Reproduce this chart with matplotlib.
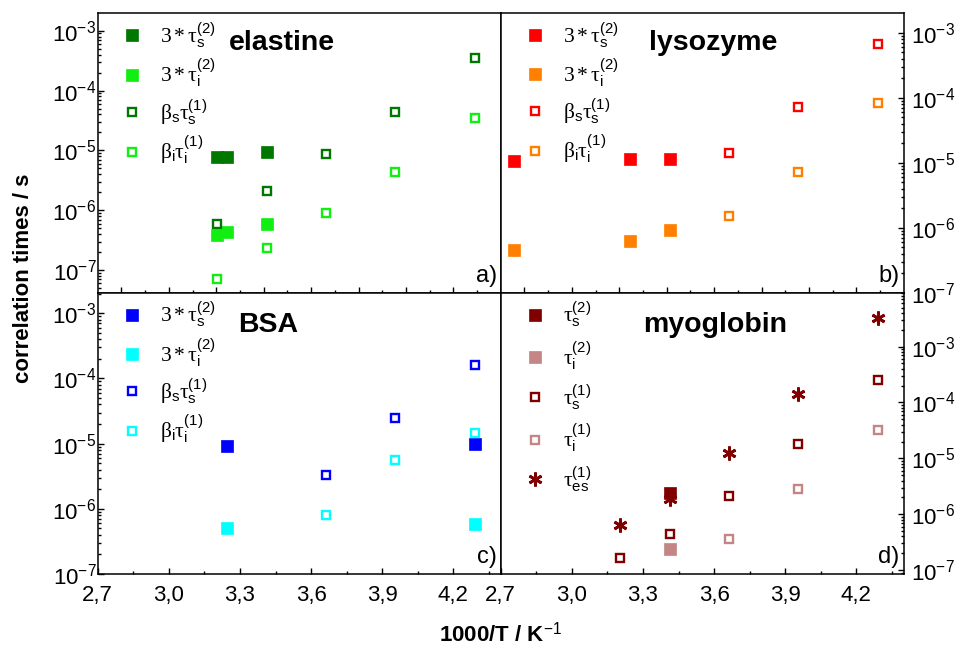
import matplotlib
matplotlib.use("Agg")
import matplotlib.pyplot as plt
from matplotlib.ticker import LogLocator, FuncFormatter, NullFormatter

plt.rcParams['font.family'] = ['Liberation Sans', 'DejaVu Sans']
plt.rcParams['mathtext.fontset'] = 'custom'
plt.rcParams['mathtext.rm'] = 'Liberation Serif'
plt.rcParams['mathtext.it'] = 'Liberation Serif:italic'
plt.rcParams['mathtext.sf'] = 'Liberation Sans'

# elastine (panel a)
ela_x2 = [3.205, 3.247, 3.413]
ela_tau_s2 = [7.8e-6, 7.8e-6, 9.4e-6]
ela_tau_i2 = [3.8e-7, 4.4e-7, 5.8e-7]
ela_x1 = [3.205, 3.413, 3.663, 3.953, 4.292]
ela_bs_tau_s1 = [5.8e-7, 2.1e-6, 8.8e-6, 4.3e-5, 3.5e-4]
ela_bi_tau_i1 = [7.2e-8, 2.3e-7, 9.1e-7, 4.3e-6, 3.5e-5]

# lysozyme (panel b)
lys_x2 = [2.755, 3.247, 3.413]
lys_tau_s2 = [1.05e-5, 1.15e-5, 1.16e-5]
lys_tau_i2 = [4.5e-7, 6.3e-7, 9.2e-7]
lys_x1 = [3.663, 3.953, 4.292]
lys_bs_tau_s1 = [1.42e-5, 7.3e-5, 6.8e-4]
lys_bi_tau_i1 = [1.5e-6, 7.1e-6, 8.3e-5]

# BSA (panel c)
bsa_x2 = [3.247, 4.292]
bsa_tau_s2 = [9.1e-6, 9.8e-6]
bsa_tau_i2 = [5.0e-7, 5.8e-7]
bsa_x1 = [3.663, 3.953, 4.292]
bsa_bs_tau_s1 = [3.3e-6, 2.5e-5, 1.6e-4]
bsa_bi_tau_i1 = [8.1e-7, 5.7e-6, 1.46e-5]

# myoglobin (panel d)
mb_x2 = [3.413]
mb_tau_s2 = [2.4e-6]
mb_tau_i2 = [2.4e-7]
mb_xs1 = [3.205, 3.413, 3.663, 3.953, 4.292]
mb_tau_s1 = [1.65e-7, 4.5e-7, 2.1e-6, 1.78e-5, 2.5e-4]
mb_xi1 = [3.663, 3.953, 4.292]
mb_tau_i1 = [3.6e-7, 2.85e-6, 3.2e-5]
mb_xes1 = [3.205, 3.413, 3.663, 3.953, 4.292]
mb_tau_es1 = [6.4e-7, 1.9e-6, 1.23e-5, 1.4e-4, 3.3e-3]

lab_s2 = r'$\mathrm{3*\tau}_\mathsf{s}^\mathsf{(2)}$'
lab_i2 = r'$\mathrm{3*\tau}_\mathsf{i}^\mathsf{(2)}$'
lab_bs = r'$\mathrm{\beta}_\mathsf{s}\mathrm{\tau}_\mathsf{s}^\mathsf{(1)}$'
lab_bi = r'$\mathrm{\beta}_\mathsf{i}\mathrm{\tau}_\mathsf{i}^\mathsf{(1)}$'

fig = plt.figure(figsize=(9.58, 6.54), dpi=100)
W = 0.4207
axa = fig.add_axes([0.102, 0.552, W, 0.428])
axb = fig.add_axes([0.102 + W, 0.552, W, 0.428])
axc = fig.add_axes([0.102, 0.1223, W, 0.4297])
axd = fig.add_axes([0.102 + W, 0.1223, W, 0.4297])

filled = dict(ls='none', marker='s', ms=8, mew=0.5)
hollow = dict(ls='none', marker='s', ms=5.5, mew=1.7, mfc='white')


def square_pair(ax, x2, s2, i2, x1, s1, i1, dark, light, ls2, li2, ls1, li1):
    ax.plot(x2, s2, color=dark, label=ls2, **filled)
    ax.plot(x2, i2, color=light, label=li2, **filled)
    ax.plot(x1, s1, color=dark, label=ls1, **hollow)
    ax.plot(x1, i1, color=light, label=li1, **hollow)


square_pair(axa, ela_x2, ela_tau_s2, ela_tau_i2, ela_x1, ela_bs_tau_s1, ela_bi_tau_i1,
            '#007800', '#11ee11', lab_s2, lab_i2, lab_bs, lab_bi)
square_pair(axb, lys_x2, lys_tau_s2, lys_tau_i2, lys_x1, lys_bs_tau_s1, lys_bi_tau_i1,
            '#ff0000', '#ff8000', lab_s2, lab_i2, lab_bs, lab_bi)
square_pair(axc, bsa_x2, bsa_tau_s2, bsa_tau_i2, bsa_x1, bsa_bs_tau_s1, bsa_bi_tau_i1,
            '#0000ff', '#00ffff', lab_s2, lab_i2, lab_bs, lab_bi)

axd.plot(mb_x2, mb_tau_s2, color='#800000', label=r'$\mathrm{\tau}_\mathsf{s}^\mathsf{(2)}$', **filled)
axd.plot(mb_x2, mb_tau_i2, color='#c48585', label=r'$\mathrm{\tau}_\mathsf{i}^\mathsf{(2)}$', **filled)
axd.plot(mb_xs1, mb_tau_s1, color='#800000', label=r'$\mathrm{\tau}_\mathsf{s}^\mathsf{(1)}$', **hollow)
axd.plot(mb_xi1, mb_tau_i1, color='#c48585', label=r'$\mathrm{\tau}_\mathsf{i}^\mathsf{(1)}$', **hollow)
axd.plot(mb_xes1, mb_tau_es1, ls='none', marker=(6, 2, 0), ms=10, mew=2, color='#800000',
         label=r'$\mathrm{\tau}_\mathsf{es}^\mathsf{(1)}$')

ylims = {axa: (10**-7.383, 10**-2.705), axb: (1e-7, 10**-2.70),
         axc: (1e-7, 10**-2.69), axd: (10**-7.07, 10**-2.04)}
comma = FuncFormatter(lambda v, p: ('%.1f' % v).replace('.', ','))

for ax in (axa, axb, axc, axd):
    ax.set_yscale('log')
    ax.set_ylim(*ylims[ax])
    ax.set_xlim(2.7, 4.4)
    ax.yaxis.set_major_locator(LogLocator(base=10, numticks=20))
    ax.yaxis.set_minor_locator(LogLocator(base=10, subs=range(2, 10), numticks=20))
    ax.yaxis.set_minor_formatter(NullFormatter())
    for s in ax.spines.values():
        s.set_linewidth(1.1)
    ax.tick_params(which='both', direction='in', width=1, labelsize=16)
    ax.tick_params(which='major', length=4)
    ax.tick_params(which='minor', length=2.2)

for ax in (axa, axb):
    ax.set_xticks([2.8, 3.0, 3.2, 3.4, 3.6, 3.8, 4.0, 4.2])
    ax.set_xticks([2.9, 3.1, 3.3, 3.5, 3.7, 3.9, 4.1, 4.3], minor=True)
    ax.tick_params(axis='x', which='both', labelbottom=False)

for ax in (axc, axd):
    ax.set_xticks([2.7, 3.0, 3.3, 3.6, 3.9, 4.2])
    ax.set_xticks([2.85, 3.15, 3.45, 3.75, 4.05, 4.35], minor=True)
    ax.xaxis.set_major_formatter(comma)
    ax.tick_params(axis='x', which='major', pad=8)

for ax in (axa, axc):
    ax.tick_params(axis='y', which='both', left=True, right=False, pad=1)

for ax in (axb, axd):
    ax.tick_params(axis='y', which='both', left=False, right=True, labelleft=False,
                   labelright=True, pad=5)

for ax, sp in ((axa, 0.34), (axb, 0.32), (axc, 0.32), (axd, 0.46)):
    ax.legend(loc='upper left', bbox_to_anchor=(0.02, 1.03), frameon=False, fontsize=15.5,
              labelspacing=sp, handlelength=1.0, handletextpad=0.8, borderaxespad=0.3)

titles = [(axa, 'elastine', 0.457, 0.868), (axb, 'lysozyme', 0.527, 0.868),
          (axc, 'BSA', 0.423, 0.861), (axd, 'myoglobin', 0.531, 0.861)]
for ax, t, tx, ty in titles:
    ax.text(tx, ty, t, transform=ax.transAxes, fontsize=20.5, fontweight='bold',
            ha='center', va='baseline')

for ax, t in ((axa, 'a)'), (axb, 'b)'), (axc, 'c)'), (axd, 'd)')):
    ax.text(0.99, 0.04, t, transform=ax.transAxes, fontsize=17, ha='right', va='baseline')

fig.text(24 / 958, 1 - 278 / 654, 'correlation times / s', rotation=90, fontsize=16,
         fontweight='bold', ha='center', va='center')
fig.text(500 / 958, 1 - 634 / 654, r'1000/T / K$^{\mathsf{-1}}$', fontsize=16,
         fontweight='bold', ha='center', va='center')

fig.savefig('out.png', dpi=100)
